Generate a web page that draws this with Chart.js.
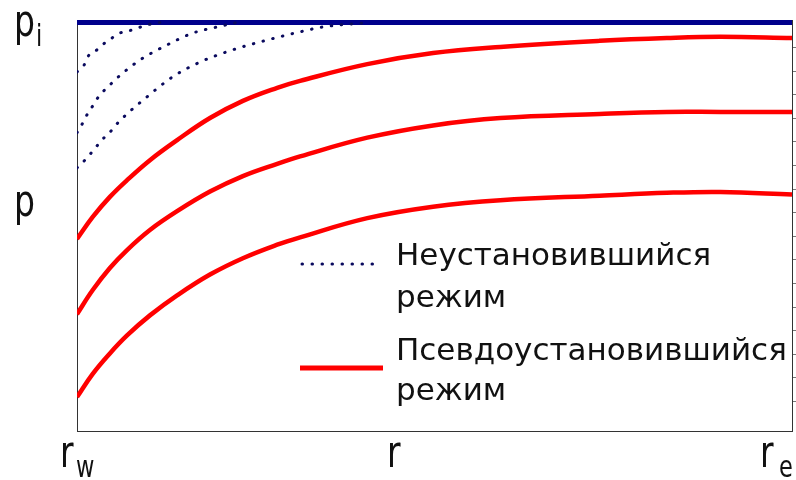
<!DOCTYPE html>
<html lang="ru">
<head>
<meta charset="UTF-8">
<title>Давление в пласте</title>
<script src="https://cdn.jsdelivr.net/npm/chart.js"></script>
<style>
  body { margin: 0; background: #fff; }
  canvas { display: block; }
</style>
</head>
<body>
<canvas id="pressureChart" width="796" height="480"></canvas>
<script>
// радиус: 0 = r_w, 100 = r_e ; давление: 100 = p_i
const rGrid = [0, 2.2, 4.6, 7, 10.2, 14, 18.6, 23.2, 28, 31.2, 40.6, 49.8, 59.2, 73.1, 82.5, 90, 100];
const pseudo1 = [47.0, 52.4, 57.3, 61.4, 66.3, 71.2, 76.6, 80.8, 84.0, 85.7, 89.8, 92.5, 94.0, 95.5, 96.2, 96.5, 96.2];
const pseudo2 = [28.6, 34.5, 39.9, 44.3, 49.2, 53.8, 58.6, 62.4, 65.4, 67.2, 71.8, 74.8, 76.6, 77.6, 78.1, 78.1, 78.1];
const pseudo3 = [8.3, 14.0, 19.0, 23.4, 28.3, 33.2, 38.3, 42.3, 45.6, 47.4, 52.1, 54.9, 56.5, 57.6, 58.3, 58.5, 57.9];

const trans1R = [0, 1.0, 1.5, 2.8, 3.9, 4.9, 6.0, 7.8, 9.8, 11.6];
const trans1P = [87.9, 89.6, 91.6, 93.3, 95.0, 96.2, 97.4, 98.2, 99.4, 100];
const trans2R = [0, 0.8, 1.4, 2.1, 2.8, 3.6, 4.6, 5.6, 8.8, 12.6, 16.2, 19.6, 22.4];
const trans2P = [73.0, 75.4, 77.4, 79.3, 81.3, 83.0, 84.7, 86.4, 90.8, 94.5, 97.4, 98.9, 100];
const trans3R = [0, 1.1, 2.1, 2.9, 3.9, 4.9, 5.7, 9.8, 13.4, 17.2, 21.8, 26.6, 31.2, 34.4, 41];
const trans3P = [64.4, 66.3, 68.3, 70.0, 72.0, 73.7, 75.4, 81.8, 86.7, 90.3, 93.3, 95.7, 97.7, 98.9, 100];

const initialR = [0, 100];
const initialP = [100, 100];

const legendLabels = [["Неустановившийся", "режим"], ["Псевдоустановившийся", "режим"]];

const NAVY = "#00008c";
const DOTS = "#0a0a5e";
const RED = "#ff0000";

function pts(xs, ys) {
    return xs.map((x, i) => ({ x: x, y: ys[i] }));
}

function dotted(xs, ys) {
    return {
        data: pts(xs, ys),
        borderColor: DOTS,
        borderWidth: 3,
        borderDash: [0.5, 9.5],
        borderCapStyle: "round",
        pointRadius: 0,
        cubicInterpolationMode: "monotone"
    };
}

function solid(ys) {
    return {
        data: pts(rGrid, ys),
        borderColor: RED,
        borderWidth: 4.5,
        pointRadius: 0,
        tension: 0.4
    };
}

// подписи осей и легенда
const annotations = {
    id: "annotations",
    afterDraw(chart) {
        const ctx = chart.ctx;
        const x = chart.scales.x, y = chart.scales.y;

        function label(px, base, main, sub, subDx) {
            ctx.save();
            ctx.fillStyle = "#111";
            ctx.translate(px, base);
            ctx.scale(0.75, 1);
            ctx.font = "44px 'DejaVu Sans'";
            ctx.textBaseline = "alphabetic";
            ctx.fillText(main, 0, 0);
            if (sub) {
                ctx.font = "30px 'DejaVu Sans'";
                ctx.fillText(sub, subDx / 0.75, 10);
            }
            ctx.restore();
        }
        const left = x.getPixelForValue(0);
        const right = x.getPixelForValue(100);
        const yTop = y.getPixelForValue(100);
        label(left - 63, yTop + 14, "p", "i", 22);
        label(left - 63, yTop + 194, "p");
        label(left - 17, 467, "r", "w", 16);
        label(387, 467, "r");
        label(right - 32, 467, "r", "e", 19);

        // легенда
        ctx.save();
        ctx.lineCap = "round";
        ctx.strokeStyle = DOTS;
        ctx.lineWidth = 3;
        ctx.setLineDash([0.5, 9.5]);
        ctx.beginPath();
        ctx.moveTo(302, 264);
        ctx.lineTo(382, 264);
        ctx.stroke();
        ctx.setLineDash([]);
        ctx.lineCap = "butt";
        ctx.strokeStyle = RED;
        ctx.lineWidth = 5;
        ctx.beginPath();
        ctx.moveTo(300, 368);
        ctx.lineTo(383, 368);
        ctx.stroke();

        ctx.fillStyle = "#111";
        ctx.font = "31px 'DejaVu Sans'";
        ctx.textBaseline = "alphabetic";
        ctx.fillText(legendLabels[0][0], 396, 265);
        ctx.fillText(legendLabels[0][1], 396, 307);
        ctx.fillText(legendLabels[1][0], 396, 360);
        ctx.fillText(legendLabels[1][1], 396, 400);
        ctx.restore();
    }
};

const ctx = document.getElementById("pressureChart").getContext("2d");
new Chart(ctx, {
    type: "line",
    data: {
        datasets: [
            dotted(trans1R, trans1P),
            dotted(trans2R, trans2P),
            dotted(trans3R, trans3P),
            solid(pseudo1),
            solid(pseudo2),
            solid(pseudo3),
            {
                data: pts(initialR, initialP),
                borderColor: NAVY,
                borderWidth: 5,
                pointRadius: 0
            }
        ]
    },
    options: {
        responsive: false,
        animation: false,
        devicePixelRatio: 1,
        layout: { padding: { left: 77, top: 20, right: 0, bottom: 49 } },
        plugins: { legend: { display: false }, tooltip: { enabled: false } },
        scales: {
            x: {
                type: "linear", min: 0, max: 100,
                ticks: { display: false },
                grid: { display: false, drawTicks: false },
                border: { display: true, color: "#333", width: 1 },
                afterFit: s => { s.height = 0; }
            },
            y: {
                min: 0, max: 100.6,
                ticks: { display: false },
                grid: { display: false, drawTicks: false },
                border: { display: true, color: "#333", width: 1 },
                afterFit: s => { s.width = 0; }
            },
            y2: {
                position: "right",
                min: -0.25, max: 17.165,
                ticks: { display: false, stepSize: 1 },
                grid: { drawOnChartArea: false, drawTicks: true, tickLength: 4, color: "#777" },
                border: { display: true, color: "#333", width: 1 },
                afterBuildTicks: s => { s.ticks = s.ticks.filter(t => Number.isInteger(t.value) && t.value <= 16); },
                afterFit: s => { s.width = 4; }
            }
        }
    },
    plugins: [annotations]
});
</script>
</body>
</html>
